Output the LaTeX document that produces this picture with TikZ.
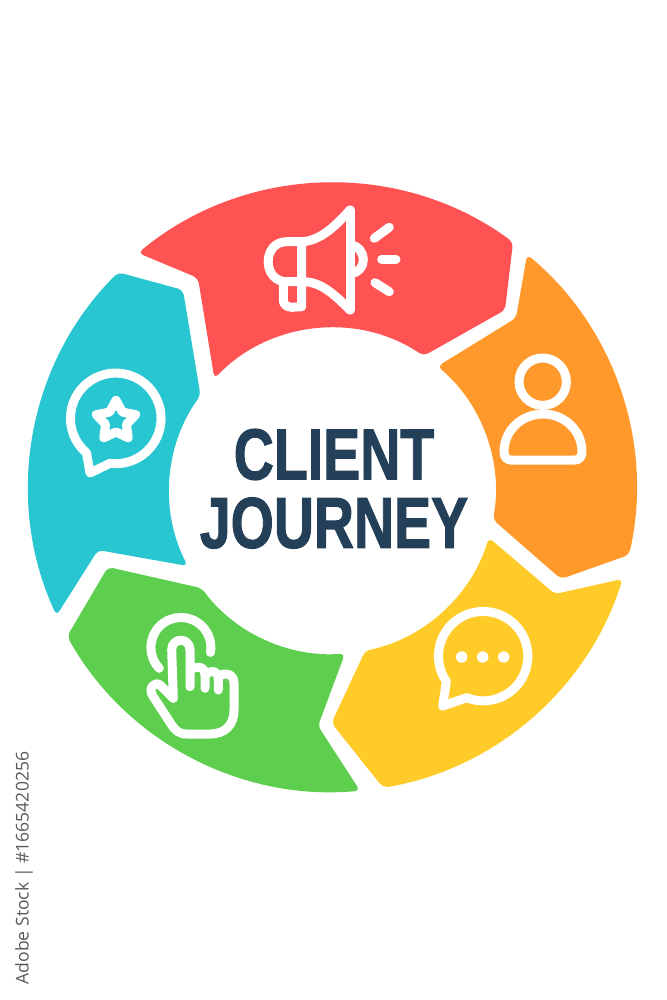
\documentclass[tikz,border=0pt]{standalone}
\usepackage{fontspec}
\setmainfont{Open Sans}
\newfontfamily\titlefont[BoldFeatures={FakeBold=1.6}]{Liberation Sans}
\usepackage{xcolor}
\definecolor{redpart}{HTML}{FF5252}
\definecolor{orangepart}{HTML}{FF992B}
\definecolor{yellowpart}{HTML}{FFCB28}
\definecolor{greenpart}{HTML}{5ECE4E}
\definecolor{tealpart}{HTML}{28C6D0}
\definecolor{titleblue}{HTML}{243F58}
\tikzset{
	part/.style={rounded corners=0.5mm},
	icon/.style={draw=white, line width=0.9mm, line cap=round, line join=round},
	title/.style={text=titleblue, font=\titlefont\bfseries\fontsize{20.5}{20.5}\selectfont, inner sep=0pt, xscale=0.77},
}
\begin{document}
\begin{tikzpicture}[x=0.01cm, y=0.01cm]
	\useasboundingbox (0,-1000) rectangle (667,0);
	% ring
	\begin{scope}[shift={(332.5,-488)}]
	\fill[redpart, part] (129.6:305) arc[start angle=129.6, end angle=53.7, radius=305]
	  -- (172.5,178) -- (91.1,132.1) arc[start angle=56, end angle=136.4, radius=163]
	  -- (-134.5,210) -- cycle;
	\fill[tealpart, part] (134.8:304) arc[start angle=134.8, end angle=204.8, radius=304]
	  -- (-234.5,-62) -- (-144.7,-78) arc[start angle=207.4, end angle=144.1, radius=163]
	  -- (-149.5,198) -- cycle;
	\fill[greenpart, part] (209.2:304) arc[start angle=209.2, end angle=275.2, radius=304]
	  -- (-14.5,-238) -- (12.5,-165.5) arc[start angle=274.4, end angle=216.6, radius=163]
	  -- (-224.5,-79) -- cycle;
	\fill[yellowpart, part] (342.6:304) arc[start angle=342.6, end angle=279.6, radius=304]
	  -- (-1,-235) -- (32.8,-162.7) arc[start angle=281.6, end angle=343.4, radius=163]
	  -- (222.5,-106) -- cycle;
	\fill[orangepart, part] (50.2:304) arc[start angle=50.2, end angle=-12.7, radius=304]
	  -- (228.5,-91) -- (160.5,-31.6) arc[start angle=-10.1, end angle=49.9, radius=163]
	  -- (183.5,170) -- cycle;
	\end{scope}
	% megaphone
	\draw[icon] (350,-210) -- (350,-310);
	\draw[icon] (350,-210) .. controls (332,-230) and (318,-241) .. (301.7,-241.7) -- (286.7,-241.7)
	  .. controls (262,-241.7) and (262,-281.7) .. (286.7,-281.7) -- (303.3,-281.7)
	  .. controls (320,-282) and (332,-292) .. (350,-310);
	\draw[icon] (301.7,-241.7) -- (301.7,-306.7) -- (291.7,-307.3) .. controls (286,-307) and (283.3,-304) .. (283.3,-300) -- (283.3,-281.7);
	\draw[icon] (351.7,-245) .. controls (358,-246) and (363.3,-252) .. (363.3,-260) .. controls (363.3,-267) and (358,-273) .. (351.7,-273.3);
	\draw[icon] (374.3,-238.3) -- (389.3,-227.3);
	\draw[icon] (381.7,-259.3) -- (396,-259.3);
	\draw[icon] (375,-282.7) -- (389.3,-291.7);
	% person
	\draw[icon] (542.7,-381.7) circle (23.7);
	\draw[icon] (504,-452) .. controls (504,-430) and (522,-414) .. (543,-414) .. controls (564,-414) and (582,-430) .. (582,-452)
	  .. controls (582,-457) and (579,-460) .. (575,-460) -- (511,-460) .. controls (507,-460) and (504,-457) .. (504,-452) -- cycle;
	% chat bubble
	\draw[icon] (466.7,-697.7) arc[start angle=248.4, end angle=574.6, radius=44.7] -- (442.7,-706) -- cycle;
	\foreach \dotx in {461.7,482.7,503.7}
		\fill[white] (\dotx,-657) circle (5.7);
	% hand
	\draw[icon] (159.3,-668.3) arc[start angle=224, end angle=-9.5, radius=30];
	\draw[icon] (173.3,-698.3) -- (171.7,-650) .. controls (171.7,-637) and (190,-637) .. (190,-650) -- (190,-686.7);
	\draw[icon] (190,-670) .. controls (193,-667) and (205,-664) .. (205,-675) -- (205,-688.3);
	\draw[icon] (205,-675) .. controls (208,-671) and (218.3,-668) .. (218.3,-680) -- (218.3,-690);
	\draw[icon] (218.3,-676.7) .. controls (224,-672) and (234,-673) .. (234,-683.3) -- (234,-710)
	  .. controls (234,-726) and (224,-734) .. (210,-734) -- (186.7,-734)
	  .. controls (179,-734) and (175,-730) .. (171.7,-725) -- (153.3,-696.7)
	  .. controls (147,-688) and (155,-681) .. (160,-685) -- (173.3,-698.3);
	% star bubble
	\draw[icon] (110,-463.3) arc[start angle=262.7, end angle=589.8, radius=45.3] -- (90,-473) -- cycle;
	\draw[icon, shift={(116,-421)}] (90:20.7) -- (126:11) -- (162:20.7) -- (198:11) -- (234:20.7) -- (270:11)
	  -- (306:20.7) -- (342:11) -- (18:20.7) -- (54:11) -- cycle;
	% title
	\node[title] (client) at (334,-454.5) {CLIENT};
	\node[title] (journey) at (334,-523) {JOURNEY};
	% stock number
	\node[rotate=90, text=black!65, font=\fontsize{5}{5}\selectfont, inner sep=0pt, anchor=west] (number) at (24,-985) {Adobe Stock | \#1665420256};
\end{tikzpicture}
\end{document}
